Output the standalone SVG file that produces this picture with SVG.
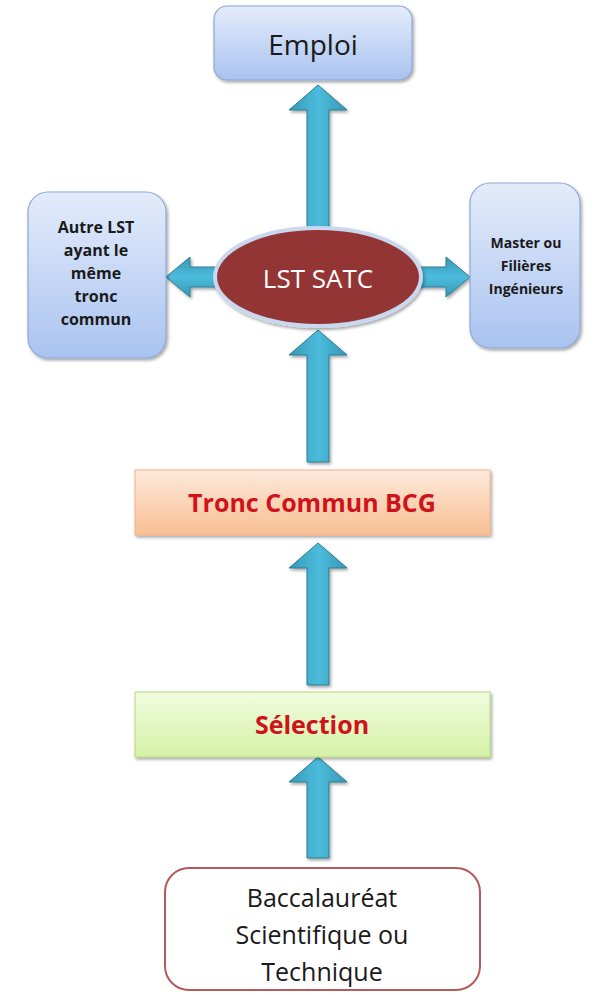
<svg xmlns="http://www.w3.org/2000/svg" width="614" height="995" viewBox="0 0 614 995">
<defs>
<linearGradient id="gBlue" x1="0" y1="0" x2="0" y2="1"><stop offset="0" stop-color="#e4ecfb"/><stop offset="1" stop-color="#a9c3f0"/></linearGradient>
<linearGradient id="gOrange" x1="0" y1="0" x2="0" y2="1"><stop offset="0" stop-color="#fde9dc"/><stop offset="1" stop-color="#f9bf93"/></linearGradient>
<linearGradient id="gGreen" x1="0" y1="0" x2="0" y2="1"><stop offset="0" stop-color="#f2fbe0"/><stop offset="1" stop-color="#d5f2a6"/></linearGradient>
<linearGradient id="gArrowV" x1="0" y1="0" x2="1" y2="0"><stop offset="0" stop-color="#3797b5"/><stop offset="0.5" stop-color="#4cbcdc"/><stop offset="1" stop-color="#3797b5"/></linearGradient>
<linearGradient id="gArrowH" x1="0" y1="0" x2="0" y2="1"><stop offset="0" stop-color="#3797b5"/><stop offset="0.5" stop-color="#4cbcdc"/><stop offset="1" stop-color="#3797b5"/></linearGradient>
<filter id="sh" x="-10%" y="-10%" width="130%" height="130%"><feDropShadow dx="1.5" dy="2" stdDeviation="1.5" flood-color="#000" flood-opacity="0.35"/></filter>
</defs>
<style>
.box{stroke:#8ea8d6;stroke-width:1.2;filter:url(#sh)}
.arrV{fill:url(#gArrowV);stroke:#2d7c93;stroke-width:1;filter:url(#sh)}
.arrH{fill:url(#gArrowH);stroke:#2d7c93;stroke-width:1;filter:url(#sh)}
.t{font-family:"Open Sans","Liberation Sans",sans-serif;text-anchor:middle}
.b{font-family:"Open Sans","Liberation Sans",sans-serif;font-weight:bold;font-size:16px;text-anchor:middle;fill:#1a1a1a}
.b2{font-family:"Open Sans","Liberation Sans",sans-serif;font-weight:bold;font-size:14px;text-anchor:middle;fill:#1a1a1a}
.r{font-family:"Open Sans","Liberation Sans",sans-serif;font-weight:bold;font-size:25px;text-anchor:middle;fill:#d0121b}
</style>
<g id="connectors">
<path class="arrV" d="M307,228 V110 H289 L318,85 L347,110 H329 V228 Z"/>
<path class="arrV" d="M307,462 V355 H289 L318,330 L347,355 H329 V462 Z"/>
<path class="arrV" d="M307,685 V568 H289 L318,543 L347,568 H329 V685 Z"/>
<path class="arrV" d="M307,858 V782 H289 L318,757 L347,782 H329 V858 Z"/>
<path class="arrH" d="M218,267 H190 V257 L166,277 L190,297 V287 H218 Z"/>
<path class="arrH" d="M418,267 H446 V257 L470,277 L446,297 V287 H418 Z"/>
</g>
<g id="emploi">
<rect class="box" x="214" y="6" width="198" height="74" rx="13" fill="url(#gBlue)"/>
<text class="t" x="313" y="55" font-size="28" fill="#1a1a1a">Emploi</text>
</g>
<g id="autre">
<rect class="box" x="28" y="192" width="138" height="166" rx="20" fill="url(#gBlue)"/>
<text class="b" x="96" y="233">Autre LST</text>
<text class="b" x="96" y="256">ayant le</text>
<text class="b" x="96" y="279">même</text>
<text class="b" x="96" y="302">tronc</text>
<text class="b" x="96" y="325">commun</text>
</g>
<g id="master">
<rect class="box" x="470" y="183" width="110" height="165" rx="20" fill="url(#gBlue)"/>
<text class="b2" x="526" y="248">Master ou</text>
<text class="b2" x="526" y="271">Filières</text>
<text class="b2" x="526" y="294">Ingénieurs</text>
</g>
<g id="lstsatc">
<ellipse cx="318" cy="277" rx="103" ry="49" fill="#943634" stroke="#c9d8ee" stroke-width="4" filter="url(#sh)"/>
<text class="t" x="318" y="288" font-size="26" fill="#ffffff">LST SATC</text>
</g>
<g id="tronc">
<rect x="135" y="470" width="355" height="65" fill="url(#gOrange)" stroke="#f4b183" stroke-width="1" filter="url(#sh)"/>
<text class="r" x="312" y="512">Tronc Commun BCG</text>
</g>
<g id="selection">
<rect x="135" y="692" width="355" height="65" fill="url(#gGreen)" stroke="#b5d77f" stroke-width="1" filter="url(#sh)"/>
<text class="r" x="312" y="734">Sélection</text>
</g>
<g id="bac">
<rect x="165" y="868" width="315" height="122" rx="24" fill="#ffffff" stroke="#b45a5a" stroke-width="2"/>
<text class="t" x="322" y="907" font-size="25" fill="#1a1a1a">Baccalauréat</text>
<text class="t" x="322" y="944" font-size="25" fill="#1a1a1a">Scientifique ou</text>
<text class="t" x="322" y="981" font-size="25" fill="#1a1a1a">Technique</text>
</g>
</svg>
